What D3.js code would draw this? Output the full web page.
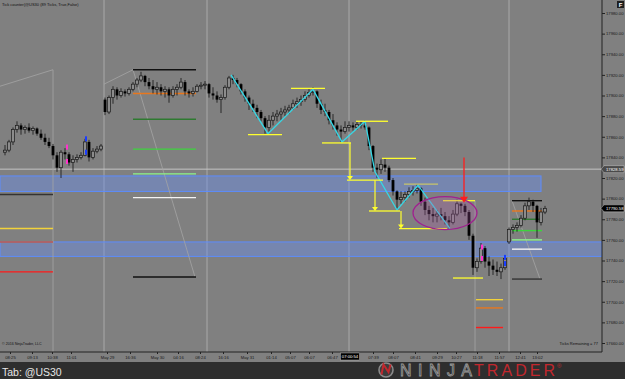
<!DOCTYPE html>
<html>
<head>
<meta charset="utf-8">
<script src="https://cdn.jsdelivr.net/npm/d3@7"></script>
<style>
  body { margin: 0; background: #808080; }
  svg { display: block; font-family: "Liberation Sans", Arial, sans-serif; }
</style>
</head>
<body>
<svg id="chart" width="625" height="379"></svg>
<script>
// 89 tick bars of @US30, prices
const barOpen = [
  17845,17847,17855,17867,17871,17867,17869,17866,17868,17863,
  17859,17855,17851,17842,17830,17845,17843,17835,17838,17840,
  17842,17855,17840,17846,17848,17896,17884,17898,17906,17900,
  17904,17902,17906,17911,17915,17919,17913,17909,17906,17908,
  17904,17906,17900,17906,17908,17913,17904,17902,17904,17909,
  17910,17911,17902,17900,17896,17898,17908,17917,17915,17911,
  17904,17898,17892,17888,17884,17878,17869,17876,17880,17882,
  17884,17886,17888,17892,17894,17896,17900,17903,17904,17892,
  17886,17884,17876,17871,17867,17865,17869,17871,17869,17872,
  17871,17869,17851,17830,17828,17833,17830,17818,17807,17799,
  17801,17804,17807,17808,17810,17797,17789,17785,17783,17785,
  17783,17779,17777,17785,17795,17793,17787,17764,17733,17739,
  17752,17739,17735,17731,17729,17733,17758,17770,17772,17774,
  17781,17793,17797,17793,17777,17787];
const barHigh = [
  17852,17857,17869,17875,17873,17871,17873,17870,17869,17867,
  17863,17859,17853,17845,17847,17849,17845,17842,17843,17845,
  17858,17857,17849,17851,17853,17898,17900,17909,17908,17907,
  17906,17908,17913,17917,17923,17920,17917,17915,17913,17911,
  17909,17908,17909,17911,17917,17915,17906,17908,17911,17913,
  17914,17912,17908,17904,17901,17910,17919,17920,17917,17912,
  17906,17900,17896,17891,17886,17880,17881,17884,17886,17888,
  17890,17891,17896,17898,17900,17904,17906,17908,17905,17896,
  17892,17886,17882,17874,17871,17875,17875,17874,17875,17875,
  17876,17870,17852,17834,17838,17839,17832,17820,17808,17807,
  17807,17811,17812,17814,17811,17801,17793,17791,17789,17791,
  17787,17783,17789,17799,17796,17795,17789,17766,17742,17757,
  17754,17744,17741,17739,17737,17745,17772,17775,17777,17784,
  17796,17801,17799,17794,17791,17793];
const barLow = [
  17842,17845,17852,17864,17862,17863,17864,17862,17861,17857,
  17852,17849,17838,17826,17820,17838,17832,17826,17835,17838,
  17841,17836,17838,17844,17846,17881,17882,17892,17896,17898,
  17899,17900,17904,17908,17913,17909,17906,17902,17901,17900,
  17898,17893,17898,17900,17906,17900,17898,17899,17903,17906,
  17906,17898,17896,17893,17883,17896,17906,17911,17908,17901,
  17894,17886,17884,17878,17875,17863,17865,17871,17875,17876,
  17880,17882,17886,17888,17890,17894,17898,17900,17888,17882,
  17880,17872,17867,17861,17855,17863,17865,17866,17867,17868,
  17867,17847,17826,17820,17824,17826,17816,17803,17789,17795,
  17797,17801,17803,17805,17793,17784,17779,17777,17777,17779,
  17775,17771,17775,17783,17786,17783,17760,17726,17729,17737,
  17733,17725,17726,17725,17722,17731,17756,17766,17768,17772,
  17779,17789,17787,17762,17774,17785];
const barClose = [
  17847,17855,17867,17871,17867,17869,17866,17868,17863,17859,
  17855,17851,17842,17830,17845,17843,17835,17838,17840,17842,
  17855,17840,17846,17848,17851,17884,17898,17906,17900,17904,
  17902,17906,17911,17915,17919,17913,17909,17906,17908,17904,
  17906,17900,17906,17908,17913,17904,17902,17904,17909,17910,
  17911,17902,17900,17896,17898,17908,17917,17915,17911,17904,
  17898,17892,17888,17884,17878,17869,17876,17880,17882,17884,
  17886,17888,17892,17894,17896,17900,17903,17904,17892,17886,
  17884,17876,17871,17867,17865,17869,17871,17869,17872,17871,
  17869,17851,17830,17828,17833,17830,17818,17807,17799,17801,
  17804,17807,17808,17810,17797,17789,17785,17783,17785,17783,
  17779,17777,17785,17795,17793,17787,17764,17733,17739,17752,
  17739,17735,17731,17729,17733,17742,17770,17772,17774,17781,
  17793,17797,17793,17777,17787,17790.58];

// axis ticks
const priceTicks = [17660,17680,17700,17720,17740,17760,17780,17800,17820,17840,17860,17880,17900,17920,17940,17960,17980];
const timeTickBars = [1.25,6.75,11.75,16.5,25.5,31.25,38,43.25,48.75,54.5,60.5,66.5,71.25,76,81.75,92,97,102.5,108,112.75,118,123.5,128.75,133];
const timeTickLabels = ["08:25","09:13","10:38","11:01","May 29","16:36","May 30","04:16","08:24","16:16","May 31","01:14","05:07","06:07","06:47","07:39","08:07","08:41","09:29","10:27","11:18","11:57","12:41","13:02"];
const cursorBar = 86.25, cursorLabel = "07:00:54";
const lastPrice = 17790.58, markerPrice = 17828.59;

// session breaks (bar positions)
const sessionBars = [24.75, 50.5, 86, 126];

// pivot style levels: [kind, price]
const levelsLeft  = [["dark",17804],["yellow",17771],["brick",17758],["red",17729]];
const levelsMid   = [["black",17925],["orange",17902],["dkgreen",17877],["green",17848],["ltgreen",17824],["white",17801],["black",17724]];
const levelsRight = [["black",17798],["orange",17788],["dkgreen",17780],["green",17769],["ltgreen",17760],["white",17751],["dark",17722]];
const levelsLow   = [["yellow",17702],["orange",17694],["red",17675]];

// support / resistance zones: [top, bottom, toBar]
const zones = [[17822,17807,134],[17758,17744,150]];

// zig zag swing points [bar, price]
const zigzag = [[56.5,17920],[65.75,17863],[77,17906],[84.25,17855],[90,17875],[92.5,17826],[98,17789],[103.25,17813],[111.25,17771]];
// swing lines [price, fromBar, toBar]
const swingLines = [[17862,60.75,69.25],[17907,71.5,80],[17854,79.25,86.5],[17875,87.75,95.75],[17818,85.5,94.5],
  [17839,94.25,102.75],[17788,91,98.75],[17771,98.5,110.5],[17798,109.5,117.5],[17723,112,119.5]];
const swingFaint = [[17814,99.75,108.25]];
// projection arrows [bar, fromPrice, toPrice]
const swingArrows = [[86.25,17854,17818],[92.5,17818,17788],[99,17788,17771]];

// drawing objects
const faintLines = [
  [[-1.25,17909],[12,17925]],
  [[24.75,17911],[32,17925],[47.5,17724]],
  [[12,17925],[12,17650]],
  [[117.5,17798],[117.5,17650]],
  [[126.75,17798],[133.75,17722]]
];
const ellipseCenter = [110, 17786], ellipseRadius = [8, 16];
const redArrow = [114.75, 17840, 17796];
// signal markers [bar, price, kind]
const signals = [[15.5,17850,"pink"],[15.5,17836,"pink"],[20.25,17858,"blue"],[20.25,17845,"blue"],
  [119.25,17753,"pink"],[119.25,17742,"pink"],[125,17743,"blue"],[125,17737,"blue"]];

const levelColor = {dark:"#333333",yellow:"#f2d23a",brick:"#c0584a",red:"#ff1a1a",black:"#111111",orange:"#e8771e",
  dkgreen:"#2e7a30",green:"#3cd43c",ltgreen:"#8cf58c",white:"#f4f4f4"};

const W = 625, H = 379, axisX = 602, axisY = 352;
const svg = d3.select("#chart");

const x = d3.scaleLinear().domain([0, barClose.length - 1]).range([5, 545]);
const y = d3.scaleLinear().domain([17660, 17980]).range([343, 13]);

svg.append("rect").attr("width", W).attr("height", H).attr("fill", "#808080");
svg.append("defs").append("clipPath").attr("id", "plot")
  .append("rect").attr("width", axisX).attr("height", axisY);

const plot = svg.append("g").attr("clip-path", "url(#plot)");

// session lines
plot.selectAll(".sess").data(sessionBars).enter().append("line")
  .attr("x1", d => x(d)).attr("x2", d => x(d)).attr("y1", 0).attr("y2", axisY)
  .attr("stroke", "#a9a9a9").attr("stroke-width", 1);

// zones
plot.selectAll(".zone").data(zones).enter().append("rect")
  .attr("x", 0).attr("y", d => y(d[0]))
  .attr("width", d => Math.min(x(d[2]), axisX)).attr("height", d => y(d[1]) - y(d[0]))
  .attr("fill", "#6a8ff0").attr("fill-opacity", 0.42)
  .attr("stroke", "#5c8cff").attr("stroke-width", 1);

// last price marker line
plot.append("line").attr("x1", 0).attr("x2", axisX)
  .attr("y1", y(markerPrice)).attr("y2", y(markerPrice))
  .attr("stroke", "#c4c4c4").attr("stroke-width", 1);

// faint drawing lines
const line = d3.line().x(d => x(d[0])).y(d => y(d[1]));
plot.selectAll(".faint").data(faintLines).enter().append("path")
  .attr("d", line).attr("fill", "none").attr("stroke", "#a4a4a4").attr("stroke-width", 0.8);

// levels
function drawLevels(list, from, to) {
  plot.selectAll(null).data(list).enter().append("line")
    .attr("x1", x(from)).attr("x2", x(to))
    .attr("y1", d => y(d[1])).attr("y2", d => y(d[1]))
    .attr("stroke", d => levelColor[d[0]]).attr("stroke-width", 1.4);
}
drawLevels(levelsLeft, -1.25, 12);
drawLevels(levelsMid, 32, 47.75);
drawLevels(levelsRight, 126.75, 134.25);
drawLevels(levelsLow, 117.75, 124.5);

// candles
const bars = d3.range(barClose.length);
const bw = 2.8;
plot.selectAll(".wick").data(bars).enter().append("line")
  .attr("x1", i => x(i)).attr("x2", i => x(i))
  .attr("y1", i => y(barHigh[i])).attr("y2", i => y(barLow[i]))
  .attr("stroke", "#111").attr("stroke-width", 0.8);
plot.selectAll(".body").data(bars).enter().append("rect")
  .attr("x", i => x(i) - bw / 2)
  .attr("y", i => y(Math.max(barOpen[i], barClose[i])))
  .attr("width", bw)
  .attr("height", i => Math.max(1, Math.abs(y(barOpen[i]) - y(barClose[i]))))
  .attr("fill", i => barClose[i] >= barOpen[i] ? "#8c8c8c" : "#000")
  .attr("stroke", i => barClose[i] >= barOpen[i] ? "#1a1a1a" : "none")
  .attr("stroke-width", 0.7);

// zig zag
plot.append("path").datum(zigzag).attr("d", line)
  .attr("fill", "none").attr("stroke", "#35d8e6").attr("stroke-width", 1.3);

// swing lines and projection arrows
plot.selectAll(".swing").data(swingLines).enter().append("line")
  .attr("x1", d => x(d[1])).attr("x2", d => x(d[2])).attr("y1", d => y(d[0])).attr("y2", d => y(d[0]))
  .attr("stroke", "#ffff2e").attr("stroke-width", 1.3);
plot.selectAll(".swingf").data(swingFaint).enter().append("line")
  .attr("x1", d => x(d[1])).attr("x2", d => x(d[2])).attr("y1", d => y(d[0])).attr("y2", d => y(d[0]))
  .attr("stroke", "#c8c46a").attr("stroke-width", 1.3);
const arr = plot.selectAll(".arr").data(swingArrows).enter().append("g");
arr.append("line").attr("x1", d => x(d[0])).attr("x2", d => x(d[0]))
  .attr("y1", d => y(d[1])).attr("y2", d => y(d[2]) - 2)
  .attr("stroke", "#ffff2e").attr("stroke-width", 1.2);
arr.append("path")
  .attr("d", d => `M${x(d[0]) - 3},${y(d[2]) - 4}L${x(d[0]) + 3},${y(d[2]) - 4}L${x(d[0])},${y(d[2])}Z`)
  .attr("fill", "#ffff2e");

// highlighted consolidation
plot.append("ellipse")
  .attr("cx", x(ellipseCenter[0])).attr("cy", y(ellipseCenter[1]))
  .attr("rx", x(ellipseCenter[0] + ellipseRadius[0]) - x(ellipseCenter[0]))
  .attr("ry", y(ellipseCenter[1] - ellipseRadius[1]) - y(ellipseCenter[1]))
  .attr("fill", "#b05aa8").attr("fill-opacity", 0.28)
  .attr("stroke", "#a0208f").attr("stroke-width", 1.3);

// red arrow
plot.append("line").attr("x1", x(redArrow[0])).attr("x2", x(redArrow[0]))
  .attr("y1", y(redArrow[1])).attr("y2", y(redArrow[2]) - 4)
  .attr("stroke", "#ff1c1c").attr("stroke-width", 1.3);
plot.append("path")
  .attr("d", `M${x(redArrow[0]) - 4},${y(redArrow[2]) - 6}L${x(redArrow[0]) + 4},${y(redArrow[2]) - 6}L${x(redArrow[0])},${y(redArrow[2])}Z`)
  .attr("fill", "#ff1c1c");

// signal markers
plot.selectAll(".sig").data(signals).enter().append("rect")
  .attr("x", d => x(d[0]) - 1).attr("y", d => y(d[1]) - 2.5)
  .attr("width", 2).attr("height", 5)
  .attr("fill", d => d[2] === "pink" ? "#ff33cc" : "#1a3cff");

// price axis
svg.append("line").attr("x1", axisX).attr("x2", axisX).attr("y1", 0).attr("y2", axisY)
  .attr("stroke", "#222").attr("stroke-width", 1);
const yAxis = svg.append("g").attr("transform", `translate(${axisX},0)`)
  .call(d3.axisRight(y).tickValues(priceTicks).tickSize(3).tickSizeOuter(0).tickFormat(d => d.toFixed(2)));
yAxis.select(".domain").remove();
yAxis.selectAll("line").attr("stroke", "#222");
yAxis.selectAll("text").attr("x", 4).attr("font-size", 4.2).attr("fill", "#1a1a1a").attr("font-family", "Liberation Sans");

function priceFlag(p, fill) {
  const g = svg.append("g").attr("transform", `translate(${axisX},${y(p)})`);
  g.append("path").attr("d", "M-1,0L2,-3.5H22V3.5H2Z").attr("fill", fill).attr("stroke", "#ddd").attr("stroke-width", 0.4);
  g.append("text").attr("x", 4).attr("y", 1.5).attr("font-size", 4.2).attr("fill", "#fff").text(p.toFixed(2));
}
priceFlag(markerPrice, "#4a4a4a");
priceFlag(lastPrice, "#000");

// time axis
svg.append("line").attr("x1", 0).attr("x2", axisX).attr("y1", axisY).attr("y2", axisY)
  .attr("stroke", "#222").attr("stroke-width", 1);
const xAxis = svg.append("g").attr("transform", `translate(0,${axisY})`)
  .call(d3.axisBottom(x).tickValues(timeTickBars).tickSize(2).tickSizeOuter(0).tickFormat((d, i) => timeTickLabels[i]));
xAxis.select(".domain").remove();
xAxis.selectAll("line").attr("stroke", "#222");
xAxis.selectAll("text").attr("y", 4).attr("font-size", 4.2).attr("fill", "#1a1a1a").attr("font-family", "Liberation Sans");
svg.append("rect").attr("x", x(cursorBar) - 9.5).attr("y", axisY + 1).attr("width", 19).attr("height", 7).attr("fill", "#000").attr("stroke", "#ccc").attr("stroke-width", 0.4);
svg.append("text").attr("x", x(cursorBar)).attr("y", axisY + 6).attr("text-anchor", "middle")
  .attr("font-size", 4.2).attr("fill", "#fff").text(cursorLabel);

// captions
svg.append("text").attr("x", 2).attr("y", 6).attr("font-size", 4).attr("fill", "#111")
  .text("Tick counter(@US30 (89 Ticks, True,False)");
svg.append("text").attr("x", 2).attr("y", 345).attr("font-size", 3.6).attr("fill", "#111")
  .text("© 2016 NinjaTrader, LLC");
svg.append("text").attr("x", 598).attr("y", 345).attr("text-anchor", "end").attr("font-size", 4).attr("fill", "#111")
  .text("Ticks Remaining = 77");
svg.append("rect").attr("x", 617).attr("y", 1).attr("width", 7).attr("height", 7).attr("fill", "#1e1e1e");
svg.append("text").attr("x", 620.5).attr("y", 6.8).attr("text-anchor", "middle").attr("font-size", 6)
  .attr("font-weight", "bold").attr("fill", "#fff").text("F");

// footer
svg.append("rect").attr("x", 0).attr("y", 362).attr("width", W).attr("height", H - 362).attr("fill", "#2e2e2e");
svg.append("text").attr("x", 2).attr("y", 375.5).attr("font-size", 10.5).attr("fill", "#e6e6e6").text("Tab: @US30");
const logo = svg.append("g");
logo.append("circle").attr("cx", 386).attr("cy", 370).attr("r", 7).attr("fill", "#3c3c3c").attr("stroke", "#8a8a8a").attr("stroke-width", 1.6);
logo.append("path").attr("d", "M381.5,374.5L383.5,364.5L388.5,372L390.5,364.5").attr("fill", "none").attr("stroke", "#c1272d").attr("stroke-width", 2);
logo.append("text").attr("x", 400).attr("y", 376).attr("font-size", 16).attr("textLength", 72).attr("lengthAdjust", "spacing")
  .attr("fill", "none").attr("stroke", "#9a9a9a").attr("stroke-width", 0.8).text("NINJA");
logo.append("text").attr("x", 474).attr("y", 376).attr("font-size", 16).attr("textLength", 81).attr("lengthAdjust", "spacing")
  .attr("fill", "#c1272d").text("TRADER");
logo.append("text").attr("x", 557).attr("y", 368).attr("font-size", 6).attr("fill", "#c1272d").text("®");
</script>
</body>
</html>
